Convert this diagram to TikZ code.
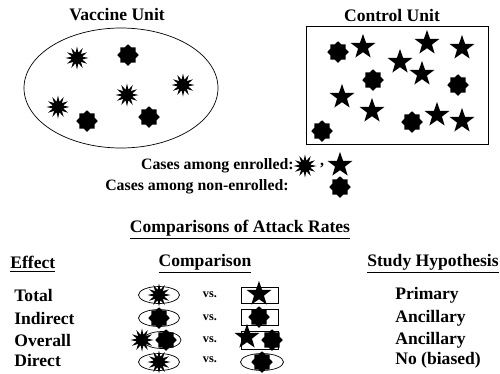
\documentclass[tikz,border=0pt]{standalone}
\usepackage{fontspec}
\setmainfont{Liberation Serif}
\usetikzlibrary{shapes.geometric}
\tikzset{
  burst/.style={star, star points=12, star point ratio=2.1, fill, inner sep=0pt, minimum size=0.46cm},
  octo/.style={star, star points=8, star point ratio=1.3, fill, inner sep=0pt, minimum size=0.43cm},
  pent/.style={star, star points=5, star point ratio=2.5, fill, inner sep=0pt, minimum size=0.52cm},
  lbl/.style={font=\bfseries, inner sep=0pt},
  small/.style={font=\fontsize{9}{10}\selectfont\bfseries, inner sep=0pt},
}
\begin{document}
\begin{tikzpicture}[x=0.02cm, y=-0.02cm]
\useasboundingbox (0,0) rectangle (500,373);

% vaccine unit
\node[lbl] (vtitle) at (117,15) {Vaccine Unit};
\draw (121,88) ellipse [x radius=97, y radius=60];
\foreach \p [count=\i] in {{77,58},{183,85},{127,95},{58,107}}
  \node[burst] (vb\i) at (\p) {};
\foreach \p [count=\i] in {{128,55},{87,121},{149,117}}
  \node[octo] (vo\i) at (\p) {};

% control unit
\node[lbl] (ctitle) at (392,15) {Control Unit};
\draw (306,26) rectangle (488,144);
\foreach \p [count=\i] in {{363,47},{400,62},{427,43},{462,48},{422,74},{342,97},{372,111},{437,115},{462,121}}
  \node[pent] (cs\i) at (\p) {};
\foreach \p [count=\i] in {{338,52},{373,80},{458,85},{412,122},{322,131}}
  \node[octo] (co\i) at (\p) {};

% legend
\node[small, anchor=east] (enr) at (294,166) {Cases among enrolled:};
\node[burst] (lb) at (305,166) {};
\node[small] (comma) at (322,166) {,};
\node[pent] (ls) at (340,165) {};
\node[small, anchor=east] (non) at (289,187) {Cases among non-enrolled:};
\node[octo] (lo) at (340,187) {};

% comparisons
\node[lbl] (comp) at (240,230) {\underline{Comparisons of Attack Rates}};
\node[lbl, anchor=west] (heff) at (10,264) {\underline{Effect}};
\node[lbl] (hcmp) at (205,264) {\underline{Comparison}};
\node[lbl, anchor=west] (hhyp) at (367,264) {\underline{Study Hypothesis}};

\foreach \t/\h/\y [count=\i] in {Total/Primary/295,Indirect/Ancillary/318,Overall/Ancillary/340,Direct/No (biased)/360}{
  \node[lbl, anchor=west] (eff\i) at (14,\y) {\t};
  \node[lbl, anchor=west] (hyp\i) at (395,\y) {\h};
  \node[lbl, font=\fontsize{7}{8}\selectfont\bfseries] (vs\i) at (210,\y) {vs.};
}

% row 1
\draw (159,295) ellipse [x radius=20.5, y radius=8.5];
\node[burst] (r1a) at (159,295) {};
\draw (241,287) rectangle (278,303);
\node[pent] (r1b) at (259,294) {};
% row 2
\draw (159,318) ellipse [x radius=20.5, y radius=8.5];
\node[octo] (r2a) at (159,318) {};
\draw (241,309) rectangle (278,325);
\node[octo] (r2b) at (259,317) {};
% row 3
\draw (162,340) ellipse [x radius=19, y radius=8.5];
\node[burst] (r3a) at (142,340) {};
\node[octo] (r3b) at (166,340) {};
\draw (241,331) rectangle (278,349);
\node[pent] (r3c) at (247,337) {};
\node[octo] (r3d) at (272,340) {};
% row 4
\draw (159,362) ellipse [x radius=20.5, y radius=8.5];
\node[burst] (r4a) at (159,362) {};
\draw (262,362) ellipse [x radius=21.5, y radius=8.5];
\node[octo] (r4b) at (262,362) {};
\end{tikzpicture}
\end{document}
